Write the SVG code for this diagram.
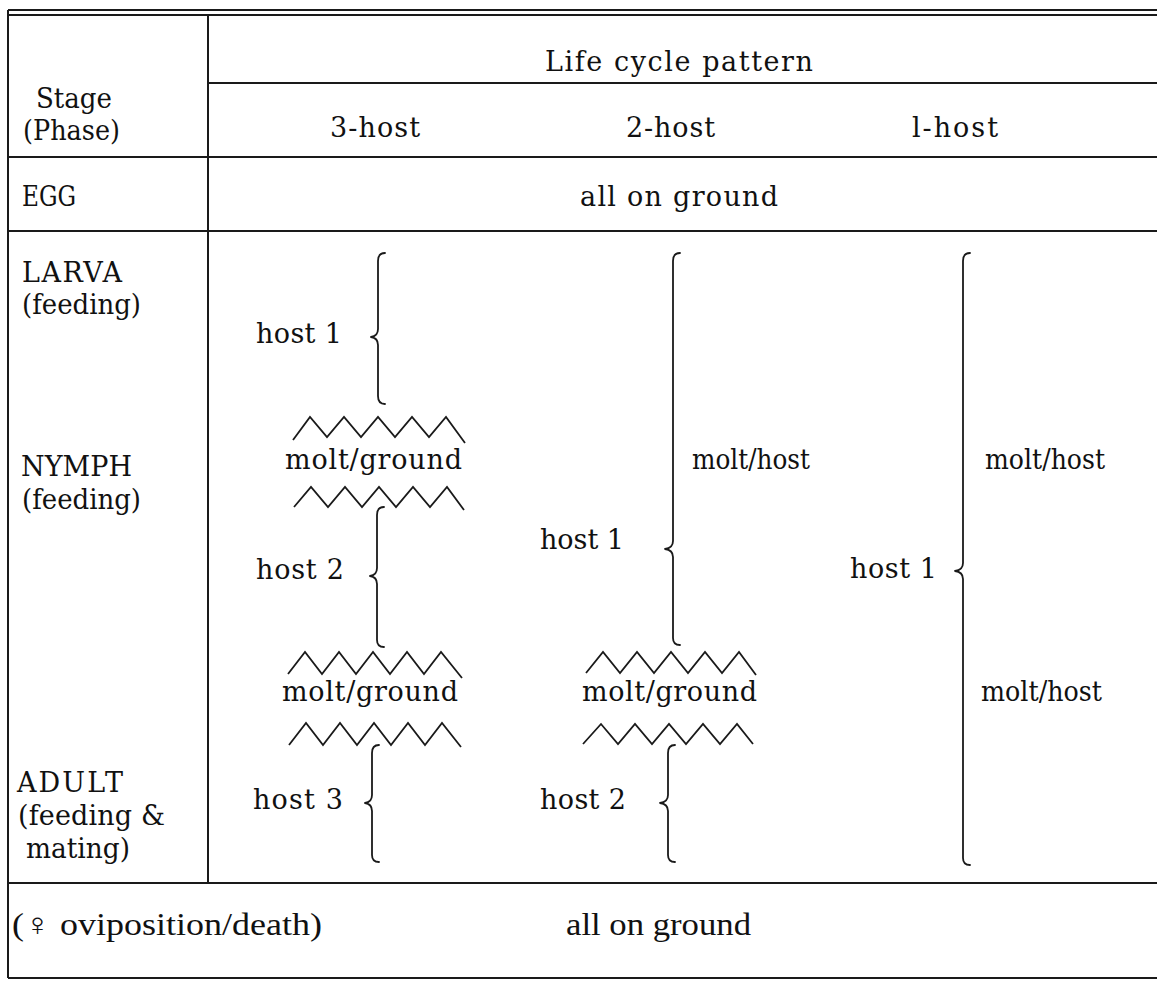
<svg xmlns="http://www.w3.org/2000/svg" width="1157" height="986" viewBox="0 0 1157 986">
<style>
.ln{stroke:#1a1a1a;stroke-width:2;fill:none}
.br{stroke:#1a1a1a;stroke-width:1.8;fill:none;stroke-linejoin:round;stroke-linecap:round}
.zz{stroke:#1a1a1a;stroke-width:1.8;fill:none;stroke-linejoin:miter}
text{font-family:"DejaVu Serif","Liberation Serif",serif;font-size:27px;fill:#111}
.c{font-family:"Liberation Serif","DejaVu Serif",serif;font-size:31px}
</style>
<rect width="1157" height="986" fill="#fff"/>
<g id="grid">
<line class="ln" x1="8" y1="10" x2="1157" y2="10"/>
<line class="ln" x1="8" y1="15" x2="1157" y2="15"/>
<line class="ln" x1="8" y1="10" x2="8" y2="978"/>
<line class="ln" x1="208" y1="15" x2="208" y2="883"/>
<line class="ln" x1="208" y1="83" x2="1157" y2="83"/>
<line class="ln" x1="8" y1="157" x2="1157" y2="157"/>
<line class="ln" x1="8" y1="231" x2="1157" y2="231"/>
<line class="ln" x1="8" y1="883" x2="1157" y2="883"/>
<line class="ln" x1="8" y1="978" x2="1157" y2="978"/>
</g>
<g id="header">
<text x="36" y="108" textLength="76" lengthAdjust="spacingAndGlyphs">Stage</text>
<text x="23" y="140" textLength="97" lengthAdjust="spacingAndGlyphs">(Phase)</text>
<text x="545" y="71" textLength="268" lengthAdjust="spacing">Life cycle pattern</text>
<text x="330" y="137" textLength="90" lengthAdjust="spacing">3-host</text>
<text x="626" y="137" textLength="89" lengthAdjust="spacing">2-host</text>
<text x="912" y="137" textLength="86" lengthAdjust="spacing">l-host</text>
</g>
<g id="egg">
<text x="22" y="206" textLength="54" lengthAdjust="spacingAndGlyphs">EGG</text>
<text x="580" y="206" textLength="198" lengthAdjust="spacing">all on ground</text>
</g>
<g id="stages">
<text x="22" y="282" textLength="100" lengthAdjust="spacing">LARVA</text>
<text x="22" y="314" textLength="119" lengthAdjust="spacingAndGlyphs">(feeding)</text>
<text x="21" y="476" textLength="111" lengthAdjust="spacing">NYMPH</text>
<text x="22" y="509" textLength="119" lengthAdjust="spacingAndGlyphs">(feeding)</text>
<text x="17" y="792" textLength="106" lengthAdjust="spacing">ADULT</text>
<text x="18" y="825" textLength="147" lengthAdjust="spacing">(feeding &amp;</text>
<text x="26" y="858" textLength="104" lengthAdjust="spacingAndGlyphs">mating)</text>
</g>
<g id="host3">
<text x="256" y="343" textLength="86" lengthAdjust="spacing">host 1</text>
<text x="285" y="469" textLength="177" lengthAdjust="spacing">molt/ground</text>
<text x="256" y="579" textLength="88" lengthAdjust="spacing">host 2</text>
<text x="282" y="701" textLength="176" lengthAdjust="spacing">molt/ground</text>
<text x="253" y="809" textLength="90" lengthAdjust="spacing">host 3</text>
</g>
<g id="host2">
<text x="540" y="549" textLength="84" lengthAdjust="spacing">host 1</text>
<text x="692" y="469" textLength="118" lengthAdjust="spacingAndGlyphs">molt/host</text>
<text x="582" y="701" textLength="175" lengthAdjust="spacing">molt/ground</text>
<text x="540" y="809" textLength="86" lengthAdjust="spacing">host 2</text>
</g>
<g id="host1">
<text x="850" y="578" textLength="87" lengthAdjust="spacing">host 1</text>
<text x="985" y="469" textLength="120" lengthAdjust="spacingAndGlyphs">molt/host</text>
<text x="981" y="701" textLength="121" lengthAdjust="spacingAndGlyphs">molt/host</text>
</g>
<g id="final">
<text class="c" x="12" y="935" textLength="310" lengthAdjust="spacingAndGlyphs">(♀ oviposition/death)</text>
<text class="c" x="566" y="935" textLength="185" lengthAdjust="spacingAndGlyphs">all on ground</text>
</g>
<g id="connectors">
<path class="br" d="M385,253 Q378,253 378,261 L378,329 Q378,336 371,337 Q378,338 378,345 L378,396 Q378,404 385,404"/>
<path class="br" d="M384,507 Q377,507 377,515 L377,568 Q377,575 370,576 Q377,577 377,584 L377,640 Q377,647 384,647"/>
<path class="br" d="M379,745 Q372,745 372,753 L372,795 Q372,802 365,803 Q372,804 372,811 L372,855 Q372,862 379,862"/>
<path class="br" d="M680,253 Q673,253 673,261 L673,541 Q673,548 665,549 Q673,550 673,557 L673,638 Q673,645 680,645"/>
<path class="br" d="M675,745 Q668,745 668,753 L668,795 Q668,802 660,803 Q668,804 668,811 L668,855 Q668,862 675,862"/>
<path class="br" d="M970,253 Q963,253 963,261 L963,563 Q963,570 955,571 Q963,572 963,579 L963,858 Q963,865 970,865"/>
<polyline class="zz" points="293,440 310,417 327,437 344,417 361,437 378,417 395,437 412,417 429,437 446,417 465,443"/>
<polyline class="zz" points="294,507 311,487 328,507 345,487 362,507 379,487 396,507 413,487 430,507 447,487 464,510"/>
<polyline class="zz" points="288,674 305,652 322,674 339,652 356,674 373,652 390,674 407,652 424,674 441,652 462,678"/>
<polyline class="zz" points="289,745 306,723 323,745 340,723 357,745 374,723 391,745 408,723 425,745 442,723 461,747"/>
<polyline class="zz" points="586,673 603,652 620,673 637,652 654,673 671,652 688,673 705,652 722,673 739,652 756,675"/>
<polyline class="zz" points="583,744 601,724 618,744 635,724 652,744 669,724 686,744 703,724 720,744 737,724 753,744"/>
</g>
</svg>
